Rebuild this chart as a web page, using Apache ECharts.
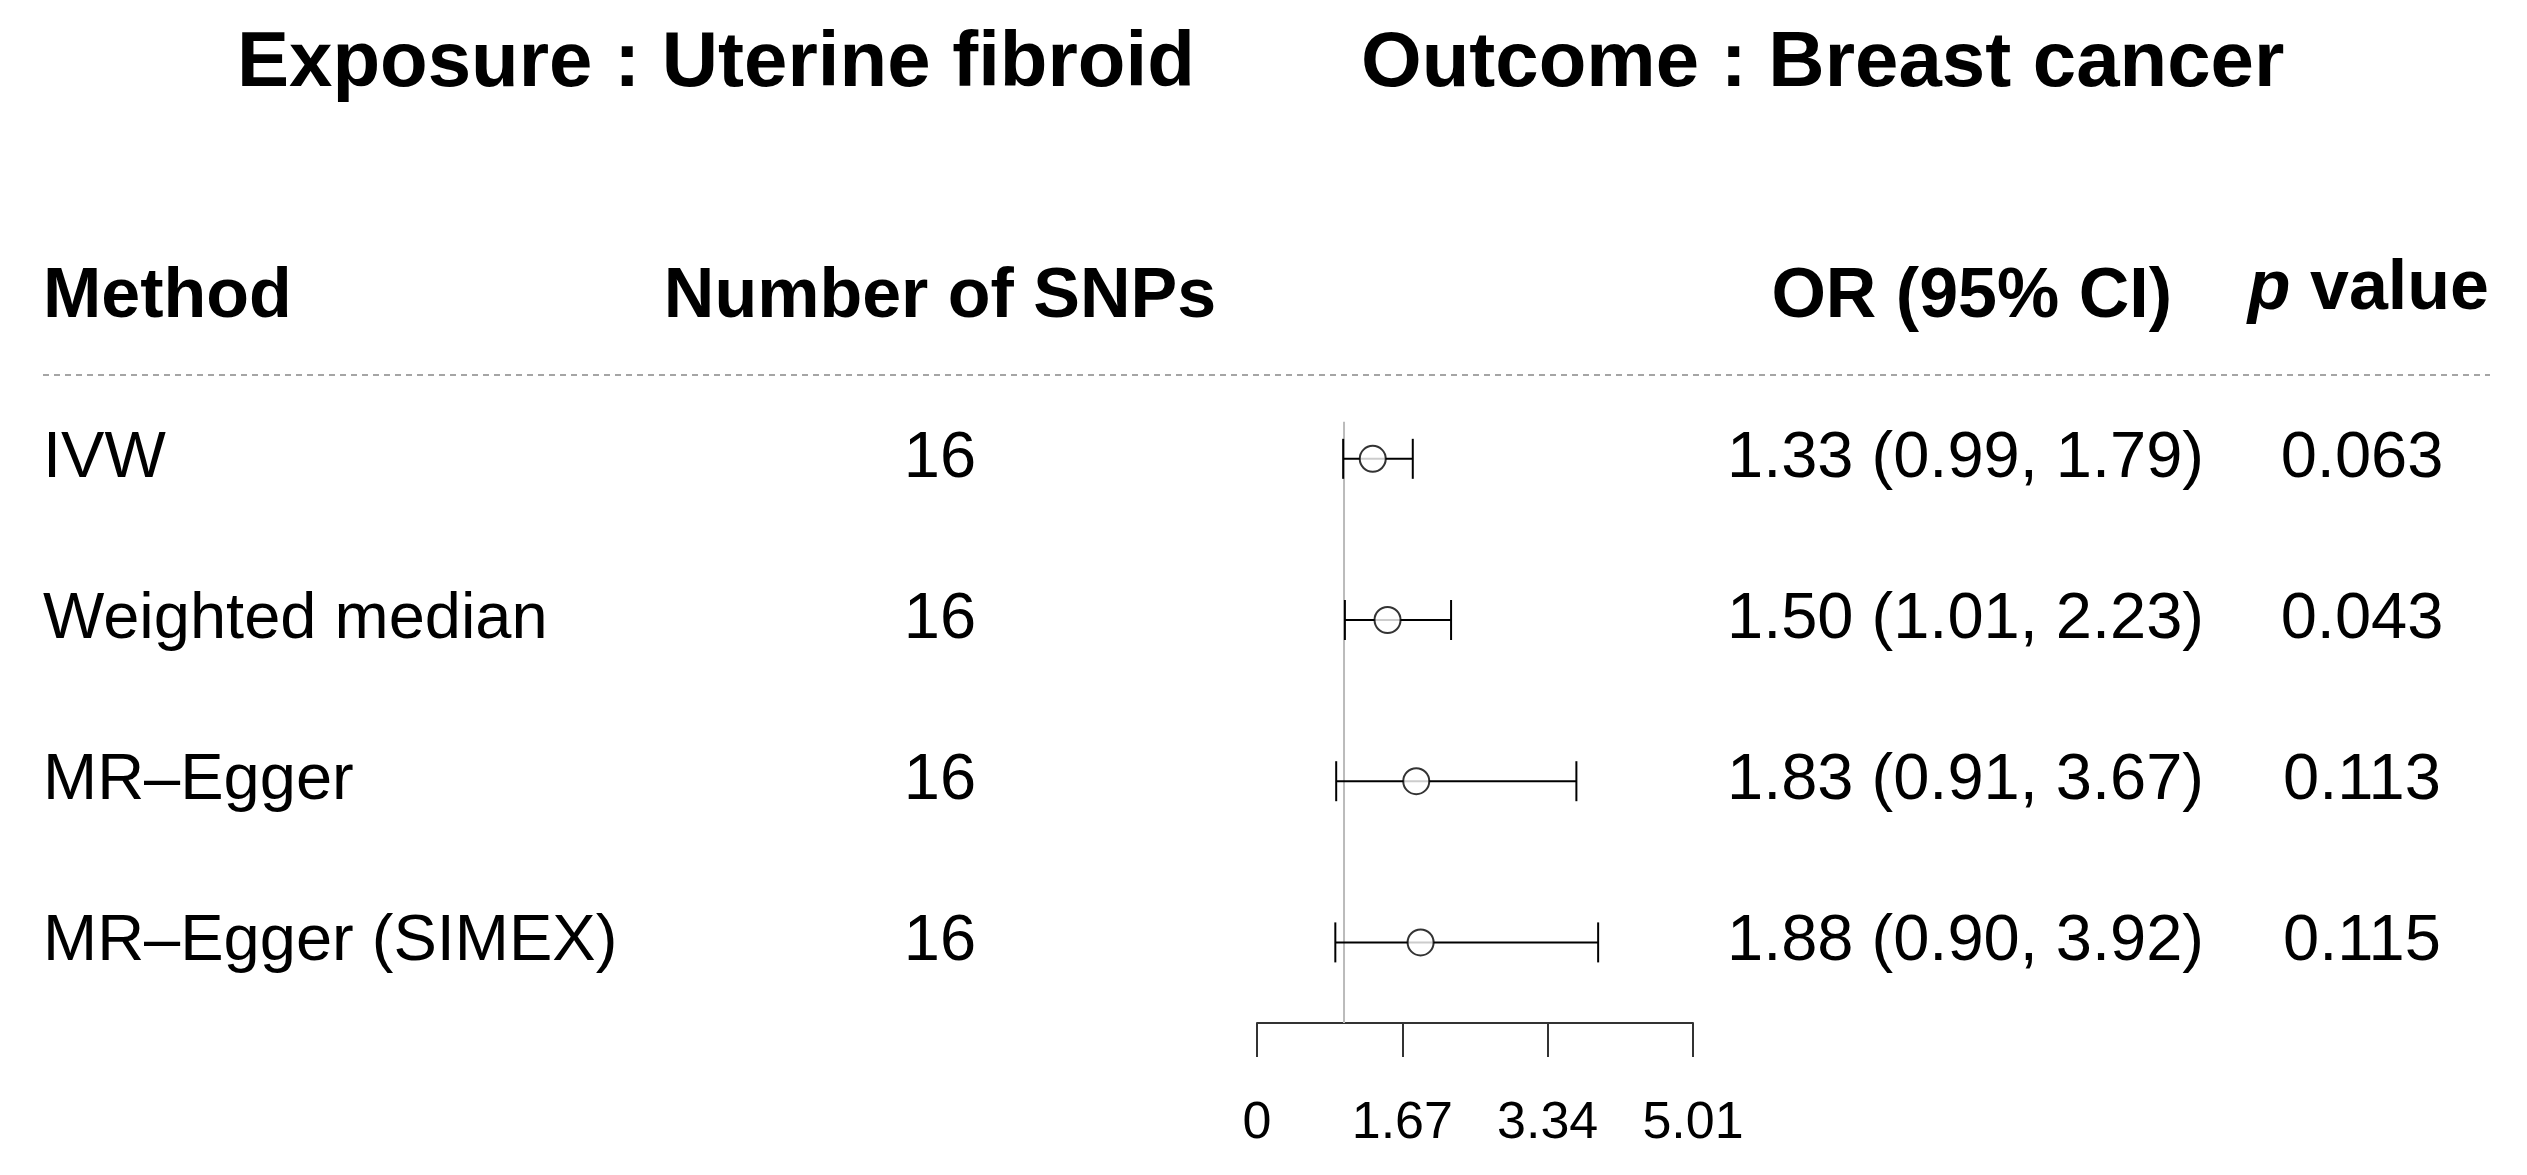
<!DOCTYPE html>
<html>
<head>
<meta charset="utf-8">
<script src="https://cdn.jsdelivr.net/npm/echarts@6/dist/echarts.min.js"></script>
<style>html,body{margin:0;padding:0;background:#fff}#c{width:2527px;height:1175px}</style>
</head>
<body>
<div id="c"></div>
<script>
var methods = ['IVW', 'Weighted median', 'MR\u2013Egger', 'MR\u2013Egger (SIMEX)'];
var nsnps = [16, 16, 16, 16];
var or = [1.33, 1.50, 1.83, 1.88];
var lower = [0.99, 1.01, 0.91, 0.90];
var upper = [1.79, 2.23, 3.67, 3.92];
var pvals = ['0.063', '0.043', '0.113', '0.115'];
var xticks = [0, 1.67, 3.34, 5.01];

var font = 'Liberation Sans, Arial, sans-serif';
var rowY = [459, 620, 781, 942];

var chart = echarts.init(document.getElementById('c'));

var graphics = [
    {type:'text', x:237, y:64, style:{text:'Exposure : Uterine fibroid', font:'bold 78px ' + font, fill:'#000', verticalAlign:'middle'}},
    {type:'text', x:1361, y:64, style:{text:'Outcome : Breast cancer', font:'bold 78px ' + font, fill:'#000', verticalAlign:'middle'}},
    {type:'text', x:43, y:298, style:{text:'Method', font:'bold 70px ' + font, fill:'#000', verticalAlign:'middle'}},
    {type:'text', x:940, y:298, style:{text:'Number of SNPs', font:'bold 70px ' + font, fill:'#000', align:'center', verticalAlign:'middle'}},
    {type:'text', x:2172, y:298, style:{text:'OR (95% CI)', font:'bold 70px ' + font, fill:'#000', align:'right', verticalAlign:'middle'}},
    {type:'text', x:2489, y:290, style:{text:'{i|p} value', align:'right', verticalAlign:'middle',
        rich:{i:{font:'italic bold 70px ' + font, fill:'#000'}}, font:'bold 70px ' + font, fill:'#000'}},
    {type:'line', shape:{x1:43, y1:375, x2:2490, y2:375}, style:{stroke:'#888', lineWidth:1.5, lineDash:[6,5]}}
];
for (var i = 0; i < methods.length; i++) {
    var st = {font:'65px ' + font, fill:'#000', verticalAlign:'middle'};
    graphics.push({type:'text', x:43, y:rowY[i], style:Object.assign({text:methods[i]}, st)});
    graphics.push({type:'text', x:940, y:rowY[i], style:Object.assign({text:String(nsnps[i]), align:'center'}, st)});
    graphics.push({type:'text', x:2204, y:rowY[i], style:Object.assign({text:or[i].toFixed(2) + ' (' + lower[i].toFixed(2) + ', ' + upper[i].toFixed(2) + ')', align:'right'}, st)});
    graphics.push({type:'text', x:2362, y:rowY[i], style:Object.assign({text:pvals[i], align:'center'}, st)});
}

var ciData = methods.map(function (m, i) { return [lower[i], upper[i], i + 1]; });
var ptData = methods.map(function (m, i) { return [or[i], i + 1]; });

chart.setOption({
    animation: false,
    grid: {left: 1257, width: 436, top: 375, bottom: 1175 - 1023},
    xAxis: {
        type: 'value', min: 0, max: 5.01, interval: 1.67,
        axisLine: {lineStyle: {color: '#333', width: 2}},
        axisTick: {length: 34, lineStyle: {color: '#333', width: 2}},
        axisLabel: {margin: 75, fontSize: 52, fontFamily: font, color: '#000',
            formatter: function (v) { var k = xticks.findIndex(function (t) { return Math.abs(t - v) < 0.01; }); return k < 0 ? '' : String(xticks[k]); }},
        splitLine: {show: false}
    },
    yAxis: {type: 'value', min: 0.48, max: 4.5, inverse: true, show: false},
    series: [
        {type: 'line', data: [[1, 0.77], [1, 4.5]], symbol: 'none', silent: true,
            lineStyle: {color: '#bbb', width: 2}, z: 1},
        {type: 'custom', z: 2, data: ciData,
            renderItem: function (params, api) {
                var a = api.coord([api.value(0), api.value(2)]);
                var b = api.coord([api.value(1), api.value(2)]);
                var s = {stroke: '#000', lineWidth: 2};
                return {type: 'group', children: [
                    {type: 'line', shape: {x1: a[0], y1: a[1], x2: b[0], y2: b[1]}, style: s},
                    {type: 'line', shape: {x1: a[0], y1: a[1] - 20, x2: a[0], y2: a[1] + 20}, style: s},
                    {type: 'line', shape: {x1: b[0], y1: b[1] - 20, x2: b[0], y2: b[1] + 20}, style: s}
                ]};
            }},
        {type: 'scatter', z: 3, data: ptData, symbol: 'circle', symbolSize: 26,
            itemStyle: {color: '#fff', borderColor: '#000', borderWidth: 2}}
    ],
    graphic: graphics
});
</script>
</body>
</html>
